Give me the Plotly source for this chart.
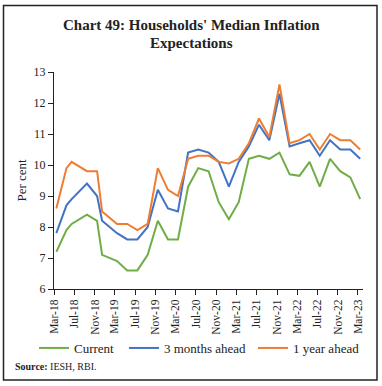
import plotly.graph_objects as go
import pandas as pd

# ---- data ----
rounds = ["Mar-18", "May-18", "Jun-18", "Sep-18", "Nov-18", "Dec-18", "Mar-19", "May-19",
          "Jul-19", "Sep-19", "Nov-19", "Jan-20", "Mar-20", "May-20", "Jul-20", "Sep-20",
          "Nov-20", "Jan-21", "Mar-21", "May-21", "Jul-21", "Sep-21", "Nov-21", "Jan-22",
          "Mar-22", "May-22", "Jul-22", "Sep-22", "Nov-22", "Jan-23", "Mar-23"]
current = [7.2, 7.9, 8.1, 8.4, 8.2, 7.1, 6.9, 6.6, 6.6, 7.1, 8.2, 7.6, 7.6, 9.3, 9.9, 9.8,
           8.8, 8.25, 8.8, 10.2, 10.3, 10.2, 10.4, 9.7, 9.65, 10.1, 9.3, 10.2, 9.8, 9.6, 8.9]
three_months = [7.8, 8.7, 8.9, 9.4, 9.0, 8.2, 7.8, 7.6, 7.6, 8.0, 9.2, 8.6, 8.5, 10.4, 10.5, 10.4,
                10.1, 9.3, 10.1, 10.6, 11.3, 10.8, 12.3, 10.6, 10.7, 10.8, 10.3, 10.8, 10.5, 10.5, 10.2]
one_year = [8.6, 9.9, 10.1, 9.8, 9.8, 8.5, 8.1, 8.1, 7.9, 8.1, 9.9, 9.2, 9.0, 10.2, 10.3, 10.3,
            10.1, 10.05, 10.2, 10.7, 11.5, 10.9, 12.6, 10.7, 10.8, 11.0, 10.5, 11.0, 10.8, 10.8, 10.5]
series_names = ["Current", "3 months ahead", "1 year ahead"]
y_ticks = [6, 7, 8, 9, 10, 11, 12, 13]

# mid-month positions for each survey round
dates = pd.to_datetime(rounds, format="%b-%y") + pd.Timedelta(days=14)

# ---- layout geometry (pixels) ----
W, H = 382, 386
L, R, T, B = 54, 19, 72, 97
pw, ph = W - L - R, H - T - B

def px_x(x):
    return (x - L) / pw

def px_y(y):
    return (H - B - y) / ph

FONT = "Liberation Serif"
colors = ["#70AD47", "#4472C4", "#ED7D31"]
legend_ids = ["legend", "legend2", "legend3"]
legend_x = [39, 129, 258]  # pixel start of each legend sample line

fig = go.Figure()
for name, vals, col, lid in zip(series_names, [current, three_months, one_year], colors, legend_ids):
    fig.add_trace(go.Scatter(x=dates, y=vals, mode="lines", name=name, legend=lid,
                             line=dict(color=col, width=2)))

legend_common = dict(orientation="h", xref="container", yref="container",
                     xanchor="left", yanchor="middle", y=1 - 348 / H,
                     font=dict(family=FONT, size=13, color="#222"),
                     bgcolor="rgba(0,0,0,0)", itemwidth=30)

fig.update_layout(
    width=W, height=H,
    margin=dict(l=L, r=R, t=T, b=B, autoexpand=False),
    paper_bgcolor="white", plot_bgcolor="white",
    font=dict(family=FONT, color="#222", size=12),
    showlegend=True,
    legend=dict(legend_common, x=(legend_x[0] - 5) / W),
    legend2=dict(legend_common, x=(legend_x[1] - 5) / W),
    legend3=dict(legend_common, x=(legend_x[2] - 5) / W),
    xaxis=dict(type="date", range=["2018-03-01", "2023-04-01"],
               tick0="2018-03-01", dtick="M4", tickformat="%b-%y",
               tickangle=-90, ticks="outside", ticklen=5, tickcolor="#222",
               showline=True, linecolor="#222", linewidth=1,
               showgrid=False, zeroline=False, automargin=False,
               tickfont=dict(family=FONT, size=11.5, color="#222")),
    yaxis=dict(range=[6, 13], tickvals=y_ticks,
               ticks="outside", ticklen=5, tickcolor="#222",
               showline=True, linecolor="#222", linewidth=1,
               showgrid=False, zeroline=False, automargin=False,
               tickfont=dict(family=FONT, size=12, color="#222")),
)

fig.add_annotation(text="<b>Chart 49: Households' Median Inflation</b>", x=px_x(191), y=px_y(25),
                   xref="paper", yref="paper", xanchor="center", yanchor="middle",
                   showarrow=False, font=dict(family=FONT, size=15, color="#222"))
fig.add_annotation(text="<b>Expectations</b>", x=px_x(191), y=px_y(43),
                   xref="paper", yref="paper", xanchor="center", yanchor="middle",
                   showarrow=False, font=dict(family=FONT, size=15, color="#222"))
fig.add_annotation(text="Per cent", textangle=-90, x=px_x(21), y=0.5,
                   xref="paper", yref="paper", xanchor="center", yanchor="middle",
                   showarrow=False, font=dict(family=FONT, size=13, color="#222"))
fig.add_annotation(text="<b>Source:</b> IESH, RBI.", x=px_x(13), y=px_y(366),
                   xref="paper", yref="paper", xanchor="left", yanchor="middle",
                   showarrow=False, font=dict(family=FONT, size=10, color="#222"))
fig.add_shape(type="rect", xref="paper", yref="paper",
              x0=px_x(3.5), x1=px_x(377), y0=px_y(380), y1=px_y(5.5),
              line=dict(color="#222", width=1.5), fillcolor="rgba(0,0,0,0)", layer="above")

fig.write_html("out.html", config={"displayModeBar": False},
               post_script="document.body.style.margin='0';document.body.style.padding='0';")
